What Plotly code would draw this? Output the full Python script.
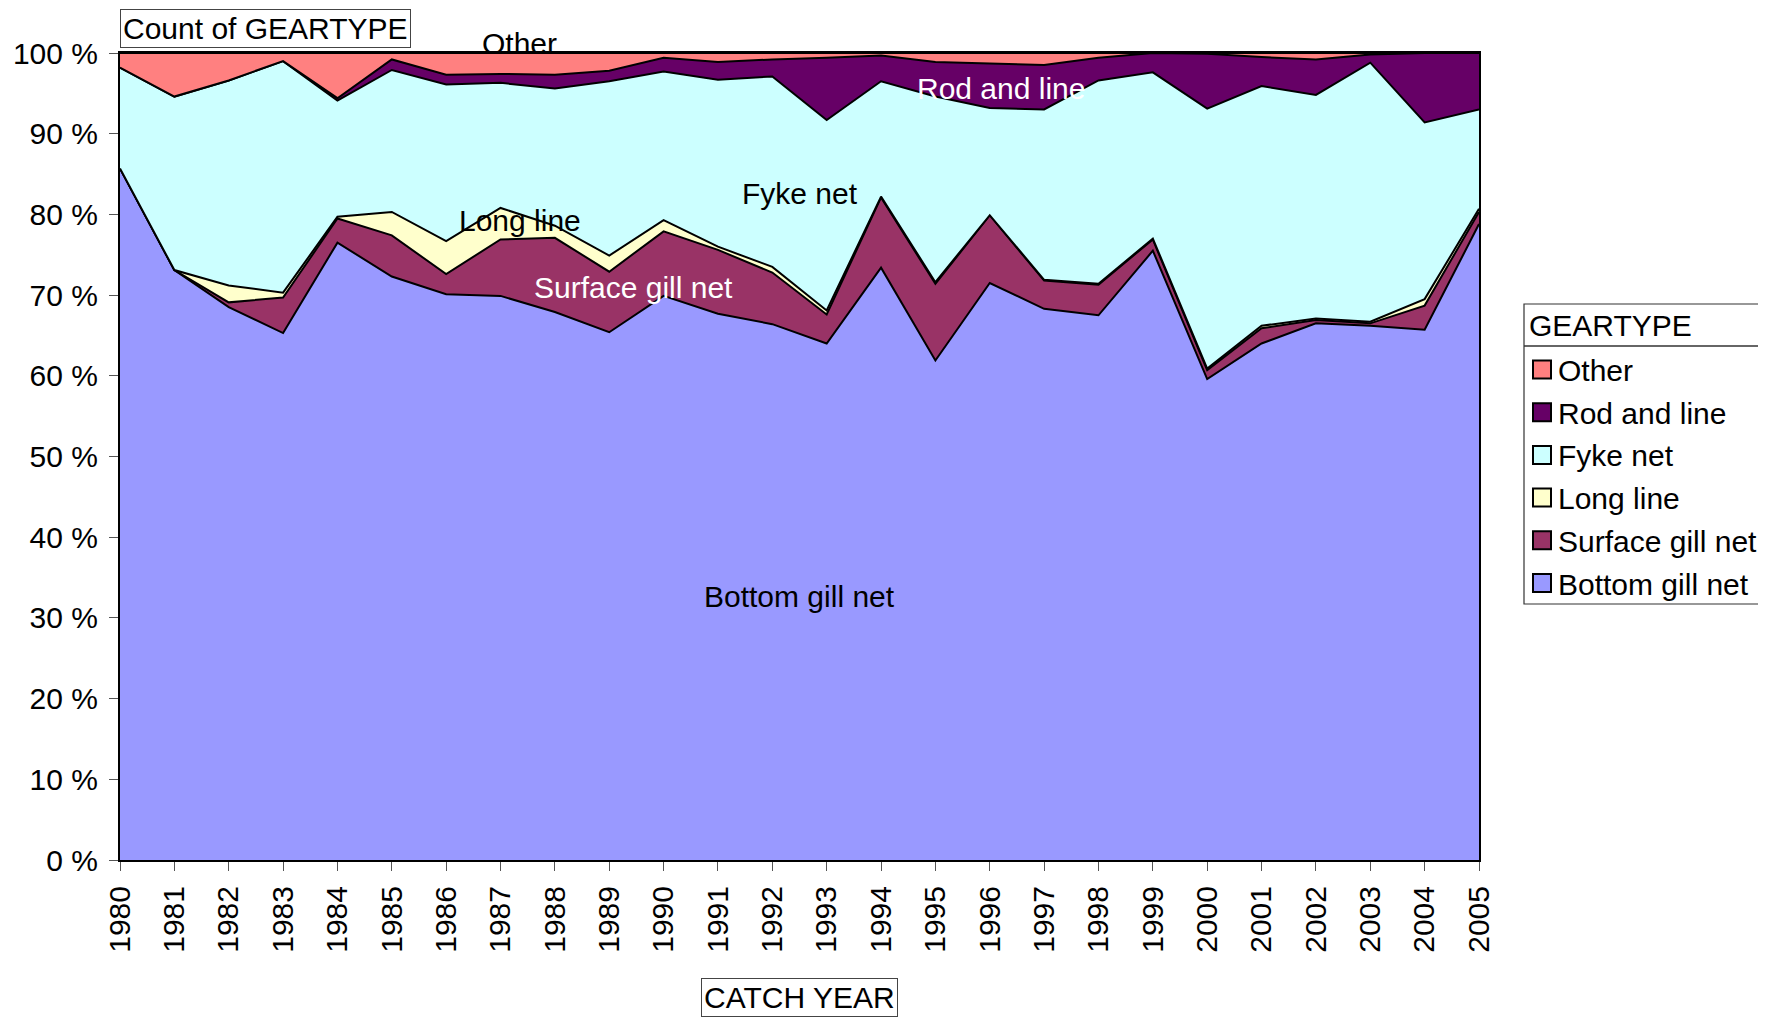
import plotly.graph_objects as go

YEARS = list(range(1980, 2006))
PERCENT_TICKS = list(range(0, 101, 10))

# share of catches per gear type, percent of yearly count
BOTTOM_GILL_NET = [85.7, 73.1, 68.5, 65.3, 76.5, 72.3, 70.1, 69.9, 67.9, 65.4, 69.9, 67.7, 66.4,
                   64.0, 73.4, 61.9, 71.5, 68.3, 67.5, 75.5, 59.6, 64.0, 66.5, 66.2, 65.7, 78.8]
SURFACE_GILL_NET = [0.0, 0.0, 0.6, 4.4, 3.0, 5.1, 2.5, 7.0, 9.2, 7.5, 8.0, 7.9, 6.4,
                    3.6, 8.7, 9.5, 8.4, 3.5, 3.8, 1.4, 1.1, 1.9, 0.4, 0.3, 3.0, 1.5]
LONG_LINE = [0.0, 0.0, 2.1, 0.6, 0.2, 2.9, 4.1, 3.9, 1.5, 2.0, 1.4, 0.4, 0.7,
             0.5, 0.1, 0.2, 0.0, 0.1, 0.1, 0.1, 0.2, 0.3, 0.2, 0.2, 0.8, 0.4]
FYKE_NET = [12.5, 21.5, 25.4, 28.7, 14.4, 17.6, 19.4, 15.5, 17.0, 21.6, 18.4, 20.7, 23.6,
            23.6, 14.3, 23.0, 13.3, 21.1, 25.2, 20.6, 32.2, 29.7, 27.7, 32.1, 21.9, 12.3]
ROD_AND_LINE = [0.0, 0.0, 0.0, 0.0, 0.3, 1.3, 1.2, 1.1, 1.7, 1.3, 1.7, 2.2, 2.1,
                7.7, 3.2, 4.3, 5.5, 5.5, 2.8, 2.4, 6.8, 3.6, 4.4, 1.0, 8.6, 7.0]
OTHER = [1.8, 5.4, 3.4, 1.0, 5.6, 0.8, 2.7, 2.6, 2.7, 2.2, 0.6, 1.1, 0.8,
         0.6, 0.3, 1.1, 1.3, 1.5, 0.6, 0.0, 0.1, 0.5, 0.8, 0.2, 0.0, 0.0]

SERIES = [
    ("Bottom gill net", BOTTOM_GILL_NET),
    ("Surface gill net", SURFACE_GILL_NET),
    ("Long line", LONG_LINE),
    ("Fyke net", FYKE_NET),
    ("Rod and line", ROD_AND_LINE),
    ("Other", OTHER),
]

COLOR_MAP = {
    "Bottom gill net": "#9999FF",
    "Surface gill net": "#993366",
    "Long line": "#FFFFCC",
    "Fyke net": "#CCFFFF",
    "Rod and line": "#660066",
    "Other": "#FF8080",
}

# in-chart series labels (year, percent, text colour)
LABELS = {
    "Other": (1987.35, 101.2, "black"),
    "Rod and line": (1996.2, 95.6, "white"),
    "Fyke net": (1992.5, 82.6, "black"),
    "Long line": (1987.35, 79.3, "black"),
    "Surface gill net": (1989.45, 70.9, "white"),
    "Bottom gill net": (1992.5, 32.6, "black"),
}

FONT = "Liberation Sans, Arial, sans-serif"
# the page puts the figure 8px in from the top-left corner
OFFSET = 8
W, H = 1766 - OFFSET, 1017 - OFFSET
L, R, T, B = 120 - OFFSET, 1766 - 1479, 53 - OFFSET, 1017 - 860


def px_x(px):
    return (px - OFFSET - L) / (W - L - R)


def px_y(py):
    return (H - B - (py - OFFSET)) / (H - T - B)


fig = go.Figure()
for i, (name, values) in enumerate(SERIES):
    fig.add_trace(
        go.Scatter(
            x=YEARS,
            y=values,
            name=name,
            mode="lines",
            stackgroup="one",
            groupnorm="percent" if i == 0 else None,
            fillcolor=COLOR_MAP[name],
            line=dict(color="black", width=2),
            showlegend=False,
        )
    )

for name, (x, y, color) in LABELS.items():
    # labels above 100 % would be hidden on the y axis, so place those on the paper
    yref = "paper" if y > 100 else "y"
    y_pos = (y / 100) if y > 100 else y
    fig.add_annotation(x=x, y=y_pos, yref=yref, xanchor="center", yanchor="middle",
                       text=name, showarrow=False,
                       font=dict(size=30, color=color, family=FONT))

# boxed axis captions
fig.add_annotation(xref="paper", yref="paper", x=0, y=px_y(29), xanchor="left", yanchor="middle",
                   text="Count of GEARTYPE", showarrow=False, bordercolor="#444", borderwidth=1,
                   borderpad=2, font=dict(size=30, color="black", family=FONT))
fig.add_annotation(xref="paper", yref="paper", x=0.5, y=px_y(998), xanchor="center", yanchor="middle",
                   text="CATCH YEAR", showarrow=False, bordercolor="#444", borderwidth=1,
                   borderpad=2, font=dict(size=30, color="black", family=FONT))

# legend box drawn by hand to get the square Excel swatches
fig.add_shape(type="rect", xref="paper", yref="paper", x0=px_x(1524), x1=px_x(1790),
              y0=px_y(604), y1=px_y(304), line=dict(color="#333", width=1.2))
fig.add_shape(type="line", xref="paper", yref="paper", x0=px_x(1524), x1=px_x(1790),
              y0=px_y(346), y1=px_y(346), line=dict(color="#333", width=1.5))
fig.add_annotation(xref="paper", yref="paper", x=px_x(1527), y=px_y(325), xanchor="left",
                   yanchor="middle", text="GEARTYPE", showarrow=False,
                   font=dict(size=30, color="black", family=FONT))
for k, (name, _) in enumerate(reversed(SERIES)):
    cy = 369.5 + k * 42.7
    fig.add_shape(type="rect", xref="paper", yref="paper", x0=px_x(1533), x1=px_x(1551),
                  y0=px_y(cy + 9), y1=px_y(cy - 9), fillcolor=COLOR_MAP[name],
                  line=dict(color="black", width=2))
    fig.add_annotation(xref="paper", yref="paper", x=px_x(1556), y=px_y(cy + 1), xanchor="left",
                       yanchor="middle", text=name, showarrow=False,
                       font=dict(size=30, color="black", family=FONT))

fig.update_layout(
    width=W,
    height=H,
    margin=dict(l=L, r=R, t=T, b=B, autoexpand=False),
    paper_bgcolor="white",
    plot_bgcolor="white",
    font=dict(family=FONT, size=30, color="black"),
)
fig.update_xaxes(
    range=[1980, 2005],
    tickmode="array",
    tickvals=YEARS,
    ticktext=[str(y) for y in YEARS],
    tickangle=-90,
    ticks="outside",
    ticklen=9,
    tickcolor="#555",
    ticklabelstandoff=3,
    showgrid=False,
    zeroline=False,
    showline=True,
    linecolor="black",
    linewidth=2,
    mirror=True,
)
fig.update_yaxes(
    range=[0, 100],
    tickmode="array",
    tickvals=PERCENT_TICKS,
    ticktext=[f"{v} %" for v in PERCENT_TICKS],
    ticks="outside",
    ticklen=9,
    tickcolor="#555",
    ticklabelstandoff=5,
    showgrid=False,
    zeroline=False,
    showline=True,
    linecolor="black",
    linewidth=2,
    mirror=True,
)

fig.write_html("out.html")
